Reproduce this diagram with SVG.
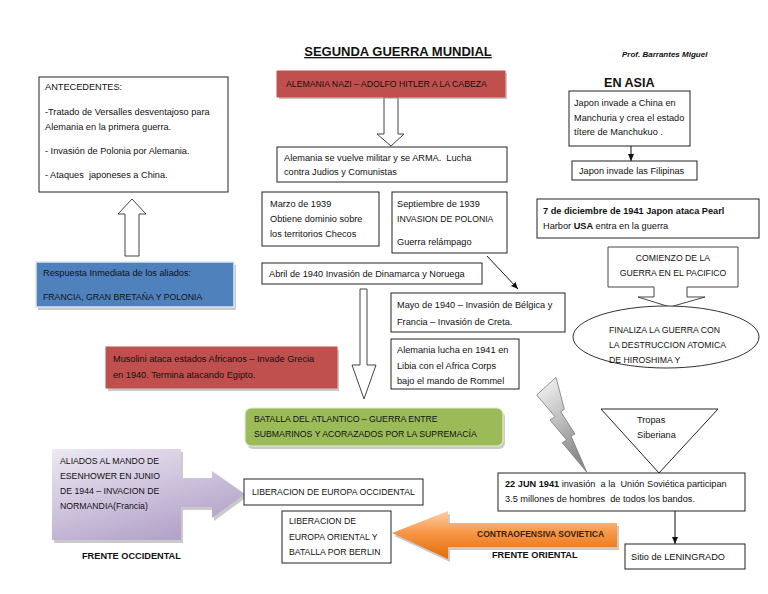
<svg xmlns="http://www.w3.org/2000/svg" width="768" height="594" viewBox="0 0 768 594">
<defs>
<style>
.t{font-family:"Liberation Sans",Arial,sans-serif;font-size:9.2px;fill:#111}
.c{font-family:"Liberation Sans",Arial,sans-serif;font-size:8.7px;fill:#111}
.b{font-weight:bold}
.box{fill:#fff;stroke:#222;stroke-width:1}
.hol{fill:#fff;stroke:#444;stroke-width:1}
.sh{fill:#a6a6a6;opacity:0.6}
.red{fill:#c0504d;stroke:#c0504d}
.con{stroke:#111;stroke-width:1;fill:none}
.pre{white-space:pre}
</style>
<marker id="ah" markerWidth="8" markerHeight="8" refX="7" refY="4" orient="auto" markerUnits="userSpaceOnUse"><path d="M0,1 L7,4 L0,7 z" fill="#111"/></marker>
<linearGradient id="gPur" x1="0" y1="0" x2="0.6" y2="1"><stop offset="0" stop-color="#ede9f3"/><stop offset="1" stop-color="#b3a2c9"/></linearGradient>
<linearGradient id="gOr" x1="0" y1="0" x2="0" y2="1"><stop offset="0" stop-color="#fbd0a8"/><stop offset="0.45" stop-color="#f79646"/><stop offset="1" stop-color="#e36c09"/></linearGradient>
<linearGradient id="gBolt" x1="0" y1="0" x2="0.4" y2="1"><stop offset="0" stop-color="#fafafa"/><stop offset="1" stop-color="#8c8c8c"/></linearGradient>
</defs>
<rect width="768" height="594" fill="#fff"/>

<g id="title">
<text class="t b" x="398" y="56" text-anchor="middle" style="font-size:13px;text-decoration:underline">SEGUNDA GUERRA MUNDIAL</text>
<text class="t b" x="622" y="57" style="font-size:8px;font-style:italic">Prof. Barrantes Miguel</text>
</g>

<g id="connectors">
<polygon class="hol" points="125,256 125,214 118,214 132,199 146,214 139,214 139,256"/>
<polygon class="hol" points="384,97 384,134 377,134 391,146 404,134 398,134 398,97"/>
<polygon class="hol" points="360,289 360,365 352,365 364,399 376,365 367,365 367,289"/>
<line class="con" x1="631" y1="146" x2="631" y2="161" marker-end="url(#ah)"/>
<line class="con" x1="487" y1="256" x2="518" y2="289" marker-end="url(#ah)"/>
<line class="con" x1="675" y1="511" x2="675" y2="544" marker-end="url(#ah)"/>
</g>

<g id="antecedentes">
<rect class="box" x="39" y="77" width="189" height="115"/>
<text class="t" x="45" y="90">ANTECEDENTES:</text>
<text class="t" x="45" y="115">-Tratado de Versalles desventajoso para</text>
<text class="t" x="45" y="130">Alemania en la primera guerra.</text>
<text class="t" x="45" y="154">- Invasión de Polonia por Alemania.</text>
<text class="t pre" x="45" y="178">- Ataques  japoneses a China.</text>
</g>

<g id="aliados">
<rect class="sh" x="38" y="265" width="198" height="45"/>
<rect x="36" y="262" width="198" height="45" fill="#4f81bd" stroke="#dbe5f1" stroke-width="1.5"/>
<text class="t" x="43" y="276">Respuesta Inmediata de los aliados:</text>
<text class="c" x="43" y="300">FRANCIA, GRAN BRETAÑA Y POLONIA</text>
</g>

<g id="musolini">
<rect class="sh" x="108" y="350" width="231" height="41"/>
<rect class="red" x="106" y="347" width="231" height="41"/>
<text class="t" x="113" y="362">Musolini ataca estados Africanos – Invade Grecia</text>
<text class="t" x="113" y="378">en 1940. Termina atacando Egipto.</text>
</g>

<g id="nazi">
<rect class="sh" x="279" y="73" width="228" height="26"/>
<rect class="red" x="277" y="71" width="228" height="26"/>
<text class="c" x="286" y="87">ALEMANIA NAZI – ADOLFO HITLER A LA CABEZA</text>
</g>

<g id="militar">
<rect class="box" x="277" y="147" width="230" height="35"/>
<text class="t pre" x="284" y="161">Alemania se vuelve militar y se ARMA.  Lucha</text>
<text class="t" x="284" y="175">contra Judios y Comunistas</text>
</g>

<g id="marzo">
<rect class="box" x="262" y="192" width="117" height="54"/>
<text class="t" x="270" y="207">Marzo de 1939</text>
<text class="t" x="270" y="222">Obtiene dominio sobre</text>
<text class="t" x="270" y="237">los territorios Checos</text>
</g>

<g id="septiembre">
<rect class="box" x="392" y="192" width="115" height="61"/>
<text class="t" x="397" y="207">Septiembre de 1939</text>
<text class="c" x="397" y="222">INVASION DE POLONIA</text>
<text class="t" x="397" y="245">Guerra relámpago</text>
</g>

<g id="abril">
<rect class="box" x="262" y="263" width="220" height="21"/>
<text class="t" x="269" y="277">Abril de 1940 Invasión de Dinamarca y Noruega</text>
</g>

<g id="mayo">
<rect class="box" x="391" y="293" width="174" height="39"/>
<text class="t" x="397" y="308">Mayo de 1940 – Invasión de Bélgica y</text>
<text class="t" x="397" y="325">Francia – Invasión de Creta.</text>
</g>

<g id="libia">
<rect class="box" x="391" y="339" width="128" height="50"/>
<text class="t" x="397" y="353">Alemania lucha en 1941 en</text>
<text class="t" x="397" y="369">Libia con el Africa Corps</text>
<text class="t" x="397" y="384">bajo el mando de Rommel</text>
</g>

<g id="atlantico">
<rect class="sh" x="247" y="411" width="258" height="38" rx="6"/>
<rect x="245" y="408" width="258" height="38" rx="6" fill="#9bbb59" stroke="#e2ecd2" stroke-width="1.2"/>
<text class="c" x="254" y="422">BATALLA DEL ATLANTICO – GUERRA ENTRE</text>
<text class="c" x="254" y="437">SUBMARINOS Y ACORAZADOS POR LA SUPREMACÍA</text>
</g>

<g id="normandia">
<path class="sh" d="M54,452 H183 V481 H214 V474 L247,497 L214,521 V510 H183 V543 H54 Z"/>
<path d="M52,449 H181 V478 H212 V471 L245,494 L212,518 V507 H181 V540 H52 Z" fill="url(#gPur)"/>
<text class="c" x="60" y="464">ALIADOS AL MANDO DE</text>
<text class="c" x="60" y="479">ESENHOWER EN JUNIO</text>
<text class="c" x="60" y="494">DE 1944 – INVACION DE</text>
<text class="c" x="60" y="509">NORMANDIA(Francia)</text>
<text class="t b" x="82" y="559">FRENTE OCCIDENTAL</text>
</g>

<g id="occidental">
<rect class="box" x="244" y="479" width="179" height="26"/>
<text class="c" x="252" y="495">LIBERACION DE EUROPA OCCIDENTAL</text>
</g>

<g id="oriental">
<rect class="box" x="282" y="511" width="109" height="52"/>
<text class="c" x="289" y="524">LIBERACION DE</text>
<text class="c" x="289" y="540">EUROPA ORIENTAL Y</text>
<text class="c" x="289" y="555">BATALLA POR BERLIN</text>
</g>

<g id="contraofensiva">
<path class="sh" d="M394,536 L450,514 V526 H619 V550 H450 V562 Z"/>
<path d="M392,533 L448,511 V523 H617 V547 H448 V559 Z" fill="url(#gOr)"/>
<text class="t b" x="477" y="537" style="font-size:8.5px;fill:#3a2410">CONTRAOFENSIVA SOVIETICA</text>
<text class="t b" x="492" y="558">FRENTE ORIENTAL</text>
</g>

<g id="asia">
<text class="t b" x="604" y="87" style="font-size:12.6px">EN ASIA</text>
</g>

<g id="manchuria">
<rect class="box" x="569" y="91" width="121" height="55"/>
<text class="t" x="574" y="106">Japon invade a China en</text>
<text class="t" x="574" y="121">Manchuria y crea el estado</text>
<text class="t" x="574" y="135">títere de Manchukuo .</text>
</g>

<g id="filipinas">
<rect class="box" x="572" y="161" width="125" height="19"/>
<text class="t" x="579" y="174">Japon invade las Filipinas</text>
</g>

<g id="pearl">
<rect class="box" x="537" y="199" width="222" height="39"/>
<text class="t b" x="543" y="214">7 de diciembre de 1941 Japon ataca Pearl</text>
<text class="t" x="543" y="229">Harbor <tspan class="b">USA</tspan> entra en la guerra</text>
</g>

<g id="pacifico">
<path class="hol" d="M608,247 H738 V287 H687 V297 H705 L670,307 L638,297 H654 V287 H608 Z"/>
<text class="c" x="673" y="261" text-anchor="middle">COMIENZO DE LA</text>
<text class="c" x="673" y="276" text-anchor="middle">GUERRA EN EL PACIFICO</text>
</g>

<g id="hiroshima">
<ellipse cx="666" cy="337" rx="93" ry="31" fill="#fff" stroke="#333" stroke-width="1"/>
<text class="c" x="609" y="333">FINALIZA LA GUERRA CON</text>
<text class="c" x="609" y="348">LA DESTRUCCION ATOMICA</text>
<text class="c" x="609" y="363">DE HIROSHIMA Y</text>
</g>

<g id="bolt">
<polygon points="536.7,395 556,377.3 564.3,409.3 560.7,411.7 575,434 571,436 586.7,472 562.3,442.7 566.7,440 550,420 555,416.7" fill="url(#gBolt)" stroke="#777" stroke-width="0.8"/>
</g>

<g id="siberiana">
<polygon points="601,409 718,409 659,473" fill="#fff" stroke="#222" stroke-width="1"/>
<text class="t" x="637" y="423">Tropas</text>
<text class="t" x="637" y="438">Siberiana</text>
</g>

<g id="urss">
<rect class="box" x="498" y="473" width="247" height="38"/>
<text class="t pre" x="505" y="487"><tspan class="b">22 JUN 1941</tspan> invasión  a la  Unión Soviética participan</text>
<text class="t pre" x="505" y="502">3.5 millones de hombres  de todos los bandos.</text>
</g>

<g id="leningrado">
<rect class="box" x="625" y="544" width="120" height="25"/>
<text class="t" x="631" y="560">Sitio de LENINGRADO</text>
</g>
</svg>
